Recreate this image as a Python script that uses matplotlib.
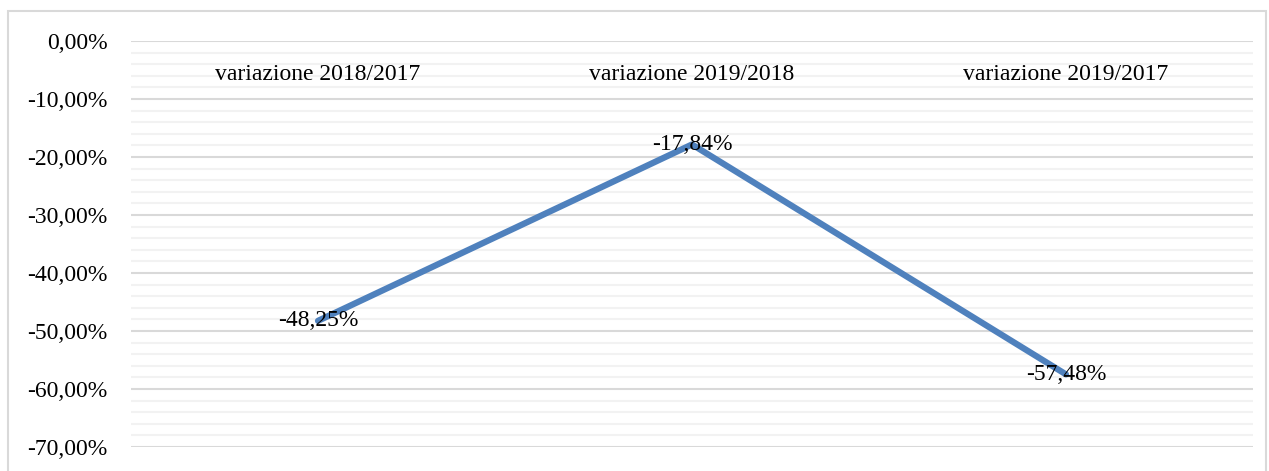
import matplotlib.pyplot as plt
from matplotlib.patches import Rectangle
from matplotlib.ticker import FuncFormatter, MultipleLocator

# dati
categorie = ['variazione 2018/2017', 'variazione 2019/2018', 'variazione 2019/2017']
variazioni = [-48.25, -17.84, -57.48]

plt.rcParams['font.family'] = ['Liberation Serif', 'DejaVu Serif']

fig = plt.figure(figsize=(12.69, 4.71), dpi=100)
ax = fig.add_axes([131 / 1269, 1 - 447 / 471, (1253 - 131) / 1269, (447 - 41) / 471])

# bordo esterno del grafico
fig.patches.append(Rectangle((8 / 1269, -0.05), (1266 - 8) / 1269, 1 - 11 / 471 + 0.05,
                             transform=fig.transFigure, fill=False,
                             edgecolor='#d9d9d9', linewidth=1.5))

x = list(range(len(categorie)))
ax.plot(x, variazioni, color='#4f81bd', linewidth=4.5, solid_capstyle='round', zorder=3)

for xi, v in zip(x, variazioni):
    testo = f'{v:.2f}%'.replace('.', ',')
    ax.text(xi, v, testo, ha='center', va='center', fontsize=17, color='black', zorder=4)

# etichette categorie in alto, sotto la linea dello zero
for xi, c in zip(x, categorie):
    ax.text(xi, 1, c, transform=ax.get_xaxis_transform(), ha='center', va='center',
            fontsize=17, color='black', zorder=5,
            ).set_y(1 - 34 / 406)

ax.set_xlim(-0.5, len(categorie) - 0.5)
ax.set_ylim(-70, 0)
ax.yaxis.set_major_locator(MultipleLocator(10))
ax.yaxis.set_minor_locator(MultipleLocator(2))
ax.yaxis.set_major_formatter(FuncFormatter(lambda v, p: f'{v:.2f}%'.replace('.', ',')))
ax.grid(which='major', axis='y', color='#d9d9d9', linewidth=1.5, zorder=1)
ax.grid(which='minor', axis='y', color='#f2f2f2', linewidth=1.5, zorder=0)

ax.set_xticks([])
ax.tick_params(axis='y', which='both', length=0, labelsize=17, pad=17)

for s in ax.spines.values():
    s.set_visible(False)

fig.savefig('out.png', dpi=100)
